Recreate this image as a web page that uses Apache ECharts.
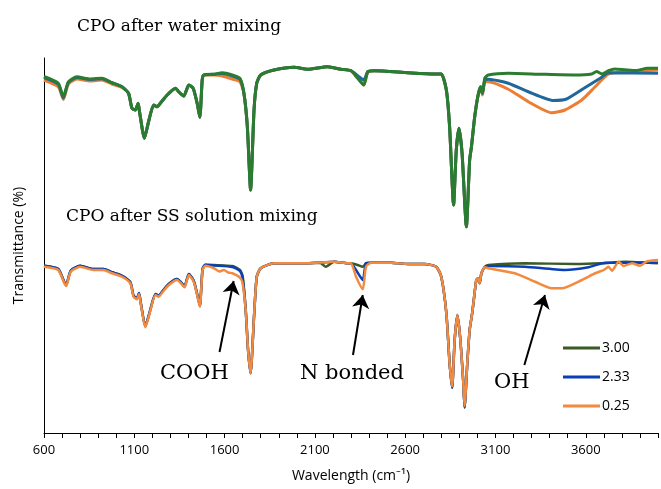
<!DOCTYPE html>
<html>
<head>
<meta charset="utf-8">
<script src="https://cdn.jsdelivr.net/npm/echarts@6/dist/echarts.min.js"></script>
<style>
  html, body { margin: 0; padding: 0; background: #fff; }
  #charts { width: 661px; height: 489px; }
</style>
</head>
<body>
<div id="charts"></div>
<script>
"use strict";

// wavenumber ticks (cm-1)
var xTicks = [600, 1100, 1600, 2100, 2600, 3100, 3600];
var legendNames = ['3.00', '2.33', '0.25'];

// upper group: CPO after water mixing  [wavenumber, transmittance]
var water300 = [[600,142.6],[679,139.9],[707,134.5],[735,140.5],[782,142.5],[856,141.6],[921,141.9],[976,140.1],[1032,138.5],[1068,135.9],[1087,129.9],[1106,129.2],[1121,131.9],[1129,128.5],[1156,117.9],[1179,124.5],[1207,131.2],[1226,130.5],[1244,131.9],[1282,135.2],[1328,137.9],[1346,136.5],[1374,134.8],[1402,139.2],[1426,137.9],[1448,131.9],[1463,126.3],[1476,141.2],[1485,143.2],[1541,143.5],[1587,144.1],[1643,143.2],[1685,141.9],[1707,135.9],[1726,122.5],[1744,97.2],[1763,129.2],[1778,139.9],[1800,143.2],[1874,145.2],[1985,146.3],[2060,145.5],[2171,146.5],[2244,145.5],[2300,144.9],[2337,141.9],[2371,139.2],[2393,144.5],[2430,144.9],[2615,144.1],[2763,143.6],[2800,143.6],[2828,137.2],[2846,122.5],[2868,91.2],[2883,113.2],[2898,121.9],[2915,111.9],[2939,82.5],[2957,109.2],[2967,114.5],[2985,126.5],[3004,135.2],[3018,138.5],[3028,135.9],[3041,141.9],[3060,143.2],[3171,143.9],[3356,143.5],[3539,143.2],[3633,143.6],[3660,144.6],[3690,143.6],[3726,144.9],[3760,145.6],[3817,145.3],[3880,145.0],[3940,145.9],[4000,145.9]];
var water233 = [[600,142.2],[679,139.5],[707,134.0],[735,140.2],[782,142.2],[856,141.4],[921,141.7],[976,140.1],[1032,138.5],[1068,135.9],[1087,129.9],[1106,129.2],[1121,131.9],[1129,128.5],[1156,117.9],[1179,124.5],[1207,131.2],[1226,130.5],[1244,131.9],[1282,135.2],[1328,137.9],[1346,136.5],[1374,134.8],[1402,139.2],[1426,137.9],[1448,131.9],[1463,126.3],[1476,141.2],[1485,143.2],[1541,143.5],[1587,143.8],[1643,142.8],[1685,141.5],[1707,135.9],[1726,122.5],[1744,97.2],[1763,129.2],[1778,139.9],[1800,143.2],[1874,145.2],[1985,146.3],[2060,145.5],[2171,146.5],[2244,145.5],[2300,144.9],[2337,142.9],[2371,141.2],[2393,144.5],[2430,144.9],[2615,144.1],[2763,143.6],[2800,143.6],[2828,137.2],[2846,122.5],[2868,91.2],[2883,113.2],[2898,121.9],[2915,111.9],[2939,82.5],[2957,109.2],[2967,114.5],[2985,126.5],[3004,135.2],[3018,138.5],[3028,135.9],[3041,141.2],[3060,141.5],[3171,139.9],[3282,136.5],[3420,133.0],[3490,133.5],[3590,137.9],[3680,141.9],[3726,144.1],[4000,143.9]];
var water025 = [[600,141.2],[679,138.5],[707,133.4],[735,139.5],[782,141.6],[856,140.8],[921,141.2],[976,139.6],[1032,138.2],[1068,135.9],[1087,129.9],[1106,129.2],[1121,131.9],[1129,128.5],[1156,117.9],[1179,124.5],[1207,131.2],[1226,130.5],[1244,131.9],[1282,135.2],[1328,137.9],[1346,136.5],[1374,134.8],[1402,139.2],[1426,137.9],[1448,131.9],[1463,126.3],[1476,141.2],[1485,143.2],[1541,143.2],[1587,142.8],[1643,141.6],[1685,140.5],[1707,135.9],[1726,122.5],[1744,97.2],[1763,129.2],[1778,139.9],[1800,143.2],[1874,145.2],[1985,146.3],[2060,145.5],[2171,146.5],[2244,145.5],[2300,144.9],[2337,141.9],[2371,139.2],[2393,144.5],[2430,144.9],[2615,144.1],[2763,143.6],[2800,143.6],[2828,137.2],[2846,122.5],[2868,91.2],[2883,113.2],[2898,121.9],[2915,111.9],[2939,82.5],[2957,109.2],[2967,114.5],[2985,126.5],[3004,135.2],[3018,138.0],[3028,135.2],[3041,140.5],[3060,140.5],[3171,137.5],[3282,132.5],[3411,128.1],[3485,129.2],[3578,133.2],[3652,138.5],[3726,143.6],[3818,144.5],[4000,145.2]];

// lower group: CPO after SS solution mixing
var ss300 = [[600,66.9],[679,65.6],[722,59.2],[748,64.9],[800,66.9],[874,65.6],[929,65.6],[976,64.3],[1032,62.9],[1078,60.3],[1096,54.9],[1115,53.9],[1126,56.0],[1137,51.6],[1161,42.7],[1185,48.3],[1217,55.6],[1235,54.9],[1254,56.5],[1291,59.6],[1337,61.6],[1356,60.5],[1378,58.7],[1402,63.6],[1429,60.9],[1448,55.6],[1463,50.9],[1478,65.6],[1494,67.3],[1541,67.2],[1643,66.8],[1685,65.2],[1700,62.8],[1717,49.2],[1730,33.2],[1744,23.9],[1763,46.5],[1778,62.5],[1800,65.9],[1874,67.9],[2060,67.9],[2130,68.0],[2161,66.5],[2207,68.5],[2282,67.9],[2300,67.9],[2337,67.2],[2365,66.5],[2383,67.9],[2411,68.1],[2522,68.1],[2615,67.6],[2707,67.6],[2772,66.5],[2800,62.5],[2828,47.9],[2846,27.9],[2860,18.1],[2874,37.2],[2889,47.2],[2904,38.5],[2921,21.2],[2929,10.2],[2944,27.9],[2957,41.2],[2971,47.9],[2982,54.5],[2994,61.2],[3004,61.9],[3013,59.9],[3022,63.9],[3041,66.5],[3060,67.2],[3263,67.9],[3541,67.6],[3689,67.9],[3818,68.5],[4000,67.9]];
var ss233 = [[600,66.9],[679,65.6],[722,59.2],[748,64.9],[800,66.9],[874,65.6],[929,65.6],[976,64.3],[1032,62.9],[1078,60.3],[1096,54.9],[1115,53.9],[1126,56.0],[1137,51.6],[1161,42.7],[1185,48.3],[1217,55.6],[1235,54.9],[1254,56.5],[1291,59.6],[1337,61.6],[1356,60.5],[1378,58.7],[1402,63.6],[1429,60.9],[1448,55.6],[1463,50.9],[1478,65.6],[1494,67.3],[1541,67.0],[1643,66.4],[1685,64.8],[1700,61.6],[1717,49.2],[1730,33.2],[1744,23.9],[1763,46.5],[1778,62.5],[1800,65.9],[1874,67.9],[2060,67.9],[2207,68.5],[2282,67.9],[2300,67.9],[2328,65.2],[2365,61.2],[2383,67.9],[2411,68.1],[2522,68.1],[2615,67.6],[2707,67.6],[2772,66.5],[2800,62.5],[2828,47.9],[2846,27.9],[2860,18.1],[2874,37.2],[2889,47.2],[2904,38.5],[2921,21.2],[2929,10.2],[2944,27.9],[2957,41.2],[2971,47.9],[2982,54.5],[2994,61.2],[3004,61.9],[3013,59.9],[3022,63.9],[3041,66.3],[3060,66.8],[3263,66.5],[3485,65.2],[3615,66.3],[3707,68.1],[4000,68.1]];
var ss025 = [[600,66.5],[679,65.2],[722,58.8],[748,64.5],[800,66.5],[874,65.2],[929,65.2],[976,63.9],[1032,62.5],[1078,59.9],[1096,54.5],[1115,53.5],[1126,55.6],[1137,51.2],[1161,42.3],[1185,47.9],[1217,55.2],[1235,54.5],[1254,56.1],[1291,59.2],[1337,61.2],[1356,60.1],[1378,58.3],[1402,63.2],[1429,60.5],[1448,55.2],[1463,50.5],[1478,65.2],[1494,66.9],[1541,65.9],[1570,64.6],[1596,65.2],[1620,64.2],[1643,63.9],[1680,62.5],[1698,60.5],[1717,49.2],[1730,33.2],[1744,23.9],[1763,46.5],[1778,62.5],[1800,65.9],[1874,67.9],[2060,67.9],[2207,68.5],[2282,67.9],[2300,67.9],[2328,62.5],[2365,57.5],[2383,66.5],[2411,68.1],[2522,68.1],[2615,67.6],[2707,67.6],[2772,66.5],[2800,62.5],[2828,47.9],[2846,27.9],[2860,18.6],[2874,37.2],[2889,47.2],[2904,38.5],[2921,21.2],[2929,10.8],[2944,27.9],[2957,41.2],[2971,47.9],[2982,54.5],[2994,61.2],[3004,61.9],[3013,59.9],[3022,63.9],[3041,66.3],[3060,65.9],[3207,63.9],[3319,60.5],[3411,57.9],[3467,57.9],[3578,61.2],[3652,63.9],[3700,65.2],[3726,66.5],[3745,64.9],[3782,68.5],[3810,66.8],[3856,67.9],[3900,66.9],[3940,68.7],[4000,69.2]];

// annotation arrows: label, tail [wn, T], tip [wn, T]
var arrows = [
    ['COOH', [1572, 32.4], [1650, 60.8]],
    ['N bonded', [2311, 31.2], [2365, 55.2]],
    ['OH', [3260, 27.2], [3374, 55.2]]
];

var upperColors = ['#2a7d2e', '#22679a', '#ed7d31'];
var lowerColors = ['#3b5b25', '#0a3fb8', '#f28a3f'];

var dom = document.getElementById("charts");
var myChart = echarts.init(dom);

function lineSeries(name, data, color, width) {
    return {
        name: name,
        type: 'line',
        data: data,
        showSymbol: false,
        symbol: 'none',
        smooth: 0.2,
        animation: false,
        lineStyle: { color: color, width: width },
        itemStyle: { color: color }
    };
}

var arrowLines = arrows.map(function (a) {
    return [{ coord: a[1], symbol: 'none' }, { coord: a[2], symbol: 'arrow' }];
});

var series = [
    lineSeries('water 0.25', water025, upperColors[2], 3),
    lineSeries('water 2.33', water233, upperColors[1], 3),
    lineSeries('water 3.00', water300, upperColors[0], 3),
    lineSeries(legendNames[0], ss300, lowerColors[0], 2.5),
    lineSeries(legendNames[1], ss233, lowerColors[1], 2.5),
    lineSeries(legendNames[2], ss025, lowerColors[2], 2.5)
];
series[5].markLine = {
    silent: true,
    animation: false,
    symbolSize: 13,
    label: { show: false },
    lineStyle: { color: '#000', width: 2, type: 'solid' },
    emphasis: { disabled: true },
    data: arrowLines
};

var serif = '"DejaVu Serif", serif';
var sans = '"Open Sans", sans-serif';

var option = {
    backgroundColor: '#fff',
    title: [
        { text: 'CPO after water mixing', left: 77, top: 18, padding: 0, textStyle: { fontFamily: serif, fontSize: 17, fontWeight: 'normal', color: '#000' } },
        { text: 'CPO after SS solution mixing', left: 66, top: 208, padding: 0, textStyle: { fontFamily: serif, fontSize: 17, fontWeight: 'normal', color: '#000' } }
    ],
    legend: {
        data: legendNames,
        orient: 'vertical',
        left: 563,
        top: 341,
        padding: 0,
        icon: 'rect',
        itemWidth: 37,
        itemHeight: 3,
        itemGap: 15,
        textStyle: { fontFamily: sans, fontSize: 14, color: '#000', padding: [0, 0, 0, -3] }
    },
    graphic: [
        { type: 'text', left: 160, top: 363, style: { text: arrows[0][0], font: '21px ' + serif, fill: '#000' } },
        { type: 'text', left: 300, top: 363, style: { text: arrows[1][0], font: '21px ' + serif, fill: '#000' } },
        { type: 'text', left: 494, top: 372, style: { text: arrows[2][0], font: '21px ' + serif, fill: '#000' } }
    ],
    grid: { left: 44, right: 3, top: 58, bottom: 56 },
    xAxis: {
        type: 'value',
        min: xTicks[0],
        max: 4000,
        interval: 500,
        name: 'Wavelength (cm⁻¹)',
        nameLocation: 'middle',
        nameGap: 36,
        nameTextStyle: { fontFamily: sans, fontSize: 14, color: '#000' },
        axisLine: { lineStyle: { color: '#000', width: 1 } },
        axisTick: { show: true, length: 5, lineStyle: { color: '#000' } },
        minorTick: { show: true, splitNumber: 5, length: 5, lineStyle: { color: '#000' } },
        axisLabel: {
            showMaxLabel: false,
            margin: 11,
            fontFamily: sans,
            fontSize: 13,
            color: '#000',
            formatter: function (v) { return String(v); }
        },
        splitLine: { show: false }
    },
    yAxis: {
        type: 'value',
        min: 0,
        max: 150,
        name: 'Transmittance (%)',
        nameLocation: 'middle',
        nameGap: 18,
        nameTextStyle: { fontFamily: sans, fontSize: 14, color: '#000' },
        axisLine: { show: true, lineStyle: { color: '#000', width: 1 } },
        axisTick: { show: false },
        axisLabel: { show: false },
        splitLine: { show: false }
    },
    series: series
};

if (option && typeof option === "object") {
    myChart.setOption(option, true);
}
</script>
</body>
</html>
